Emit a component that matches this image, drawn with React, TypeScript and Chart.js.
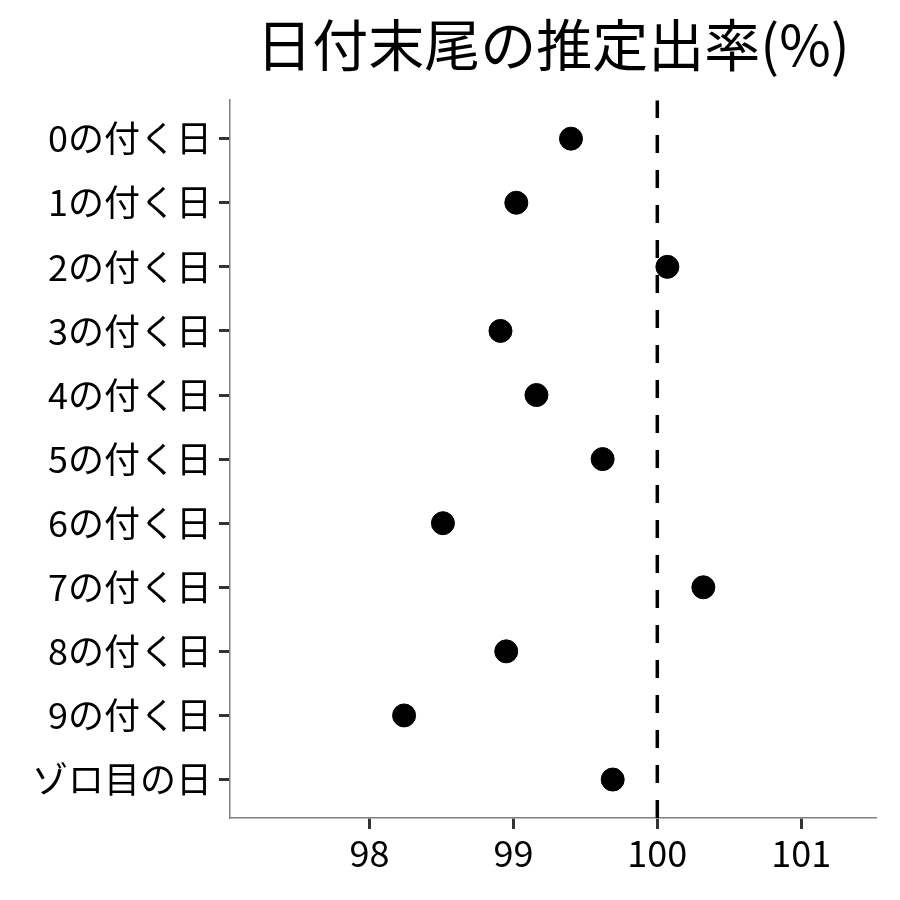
import React, { useEffect, useRef } from "react";
import { Chart, registerables } from "chart.js";

Chart.register(...registerables);

const TITLE = "日付末尾の推定出率(%)";
const CATEGORIES = [
  "0の付く日",
  "1の付く日",
  "2の付く日",
  "3の付く日",
  "4の付く日",
  "5の付く日",
  "6の付く日",
  "7の付く日",
  "8の付く日",
  "9の付く日",
  "ゾロ目の日",
];
const RATES = [99.4, 99.02, 100.07, 98.91, 99.16, 99.62, 98.51, 100.32, 98.95, 98.24, 99.69];
const X_TICKS = [98, 99, 100, 101];
const X_MIN = 97.03;
const X_MAX = 101.52;
const REF_LINE = 100;

const FONT = "'Noto Sans CJK JP', 'Noto Sans', sans-serif";

export default function App() {
  const ref = useRef<HTMLCanvasElement | null>(null);

  useEffect(() => {
    if (!ref.current) return;
    const n = CATEGORIES.length;
    const chart = new Chart(ref.current, {
      type: "scatter",
      data: {
        datasets: [
          {
            label: "ref",
            data: [
              { x: REF_LINE, y: n - 1 + 0.6 },
              { x: REF_LINE, y: -0.6 },
            ],
            showLine: true,
            borderColor: "#000",
            borderWidth: 3.5,
            borderDash: [18, 17],
            pointRadius: 0,
            order: 2,
          },
          {
            label: "rate",
            data: RATES.map((v, i) => ({ x: v, y: i })),
            backgroundColor: "#000",
            borderColor: "#000",
            pointRadius: 11.5,
            pointHoverRadius: 11.5,
            order: 1,
          },
        ],
      },
      options: {
        animation: false,
        responsive: false,
        maintainAspectRatio: false,
        layout: { padding: { top: 0, right: 24, left: 0, bottom: 0 } },
        plugins: {
          legend: { display: false },
          tooltip: { enabled: false },
          title: {
            display: true,
            text: TITLE,
            fullSize: false,
            align: "center",
            color: "#000",
            font: { family: FONT, size: 56, weight: "normal", lineHeight: 1.2 },
            padding: { top: 11, bottom: 22 },
          },
        },
        scales: {
          x: {
            type: "linear",
            min: X_MIN,
            max: X_MAX,
            afterBuildTicks: (s: any) => {
              s.ticks = X_TICKS.map((v) => ({ value: v }));
            },
            afterFit: (s: any) => {
              s.height = 82;
            },
            ticks: {
              color: "#000",
              font: { family: FONT, size: 36 },
              padding: 3,
              maxRotation: 0,
              callback: (v: any) => String(v),
            },
            grid: {
              drawOnChartArea: false,
              drawTicks: true,
              tickLength: 11,
              tickColor: "#333",
              tickWidth: 3,
            },
            border: { display: true, color: "#808080", width: 1.5 },
          },
          y: {
            type: "linear",
            min: -0.6,
            max: n - 1 + 0.6,
            reverse: true,
            afterBuildTicks: (s: any) => {
              s.ticks = CATEGORIES.map((_, i) => ({ value: i }));
            },
            afterFit: (s: any) => {
              s.width = 230;
            },
            ticks: {
              color: "#000",
              font: { family: FONT, size: 36 },
              padding: 7,
              callback: (v: any) => CATEGORIES[v as number] ?? "",
            },
            grid: {
              drawOnChartArea: false,
              drawTicks: true,
              tickLength: 11,
              tickColor: "#333",
              tickWidth: 3,
            },
            border: { display: true, color: "#808080", width: 1.5 },
          },
        },
      },
    });
    return () => chart.destroy();
  }, []);

  return (
    <div style={{ position: "fixed", left: 0, top: 0, width: 900, height: 900, background: "#fff" }}>
      <canvas ref={ref} width={900} height={900} style={{ width: 900, height: 900 }} />
    </div>
  );
}
